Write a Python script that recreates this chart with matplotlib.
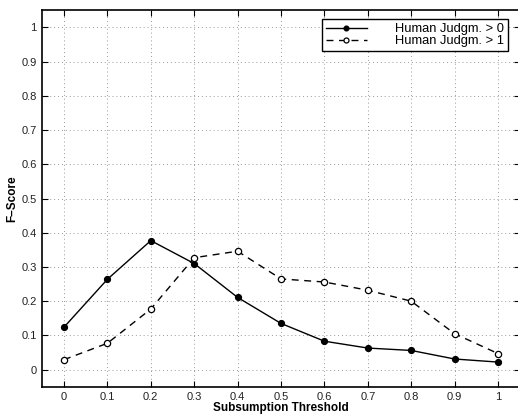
import matplotlib
matplotlib.use("Agg")
import matplotlib.pyplot as plt

plt.rcParams["font.family"] = ["Liberation Sans", "DejaVu Sans"]

thresholds = [0, 0.1, 0.2, 0.3, 0.4, 0.5, 0.6, 0.7, 0.8, 0.9, 1]
judgm_gt0 = [0.124, 0.264, 0.377, 0.310, 0.211, 0.135, 0.083, 0.063, 0.056, 0.031, 0.022]
judgm_gt1 = [0.029, 0.077, 0.177, 0.327, 0.346, 0.265, 0.256, 0.232, 0.200, 0.105, 0.047]
xtick_labels = ["0", "0.1", "0.2", "0.3", "0.4", "0.5", "0.6", "0.7", "0.8", "0.9", "1"]
yticks = [0, 0.1, 0.2, 0.3, 0.4, 0.5, 0.6, 0.7, 0.8, 0.9, 1]
ytick_labels = ["0", "0.1", "0.2", "0.3", "0.4", "0.5", "0.6", "0.7", "0.8", "0.9", "1"]

fig = plt.figure(figsize=(5.18, 4.16), dpi=100)
ax = fig.add_axes([0.0817, 0.0704, 0.9215, 0.9048])

ax.plot(thresholds, judgm_gt0, "k-", marker="o", markersize=4.2,
        markerfacecolor="k", linewidth=1, label="Human Judgm. > 0")
ax.plot(thresholds, judgm_gt1, "k--", marker="o", markersize=4.5,
        markerfacecolor="white", markeredgewidth=0.9, linewidth=1,
        dashes=(5, 4), label="Human Judgm. > 1")

ax.set_xlim(-0.05, 1.05)
ax.set_ylim(-0.05, 1.05)
ax.set_xticks(thresholds)
ax.set_xticklabels(xtick_labels)
ax.set_yticks(yticks)
ax.set_yticklabels(ytick_labels)
ax.tick_params(direction="in", top=True, right=True, length=4,
               labelsize=8, labelcolor="#222222")
ax.tick_params(axis="x", pad=4)
ax.tick_params(axis="y", pad=4)
ax.grid(True, linestyle=(0, (1, 3)), color="#999999", linewidth=0.7)
for s in ax.spines.values():
    s.set_linewidth(1.2)

ax.set_xlabel("Subsumption Threshold", fontsize=8.5, fontweight="bold", labelpad=0)
ax.set_ylabel("F\u2013Score", fontsize=8.5, fontweight="bold", labelpad=2)

leg = ax.legend(loc="upper right", bbox_to_anchor=(0.981, 0.954),
                bbox_transform=fig.transFigure, borderaxespad=0,
                fancybox=False, edgecolor="black", framealpha=1,
                fontsize=9.3, handlelength=3.2, labelspacing=0.0,
                borderpad=0.3, handletextpad=2.2, markerscale=0.8)
leg.get_frame().set_linewidth(1)

fig.savefig("out.png", dpi=100)
